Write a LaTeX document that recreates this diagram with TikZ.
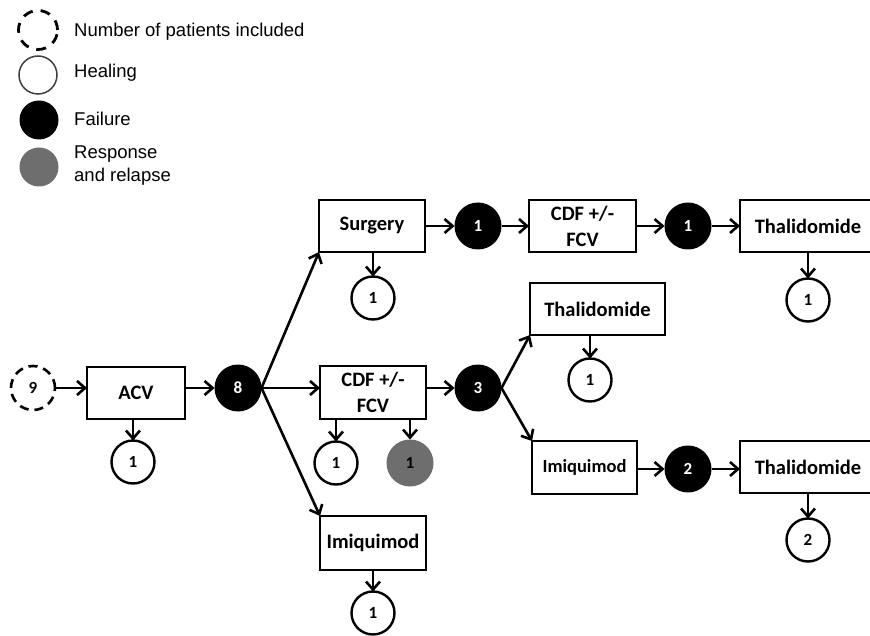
\documentclass[tikz,border=0pt]{standalone}
\usepackage{fontspec}
\setmainfont{Liberation Sans}
\newfontfamily\labfont{Carlito}
\usetikzlibrary{arrows.meta}
\definecolor{relgray}{RGB}{110,110,110}
\tikzset{
  conn/.style={line width=2.6pt,-{Straight Barb[length=8pt,width=14pt]}},
  boxnode/.style={draw,line width=2.6pt,rectangle,inner sep=0pt,outer sep=0pt,align=center,
    font=\labfont\bfseries\fontsize{20.5}{26}\selectfont},
  numc/.style={circle,inner sep=0pt,outer sep=0pt,font=\labfont\bfseries\fontsize{17}{20}\selectfont},
  heal/.style={numc,draw,line width=2.4pt,fill=white,minimum size=43pt},
  fail/.style={numc,fill=black,text=white,minimum size=47pt},
  relapse/.style={numc,fill=relgray,text=black,minimum size=47pt},
  incl/.style={numc,draw,line width=2.6pt,dash pattern=on 9pt off 6pt,minimum size=44pt},
  legtext/.style={anchor=west,inner sep=0pt,font=\fontsize{18.5}{23}\selectfont,align=left}
}
\begin{document}
\begin{tikzpicture}[x=1pt,y=-1pt]
\useasboundingbox (0,0) rectangle (870,636);
% legend
\node[numc,draw,line width=2.8pt,dash pattern=on 10pt off 8pt,minimum size=39pt] (lg1) at (38,30) {};
\node[numc,draw=black!75,line width=1.5pt,minimum size=38pt] (lg2) at (38,75) {};
\node[numc,fill=black,minimum size=39pt] (lg3) at (39,120) {};
\node[numc,fill=relgray,minimum size=39pt] (lg4) at (39,167) {};
\node[legtext] (lt1) at (74,32) {Number of patients included};
\node[legtext] (lt2) at (74,73) {Healing};
\node[legtext] (lt3) at (74,119) {Failure};
\node[legtext] (lt4) at (74,166) {Response\\and relapse};
% main row
\node[incl] (n9) at (33,388) {9};
\node[boxnode,minimum width=98pt,minimum height=52pt] (acv) at (136,393) {ACV};
\node[heal] (acv1) at (133,462) {1};
\node[fail] (n8) at (238,388) {8};
% top branch
\node[boxnode,minimum width=106pt,minimum height=52pt] (surg) at (372,226) {Surgery};
\node[heal] (surg1) at (373,298) {1};
\node[fail] (b1a) at (478,226) {1};
\node[boxnode,minimum width=107pt,minimum height=52pt] (cdft) at (582.5,226) {CDF +/-\\FCV};
\node[fail] (b1b) at (688,226) {1};
\node[boxnode,minimum width=136pt,minimum height=52pt] (thalt) at (808,226) {Thalidomide};
\node[heal] (thalt1) at (808,300) {1};
% middle branch
\node[boxnode,minimum width=106pt,minimum height=53pt] (cdfm) at (373,392.5) {CDF +/-\\FCV};
\node[heal] (cw1) at (336,463) {1};
\node[relapse] (cg1) at (410,463) {1};
\node[fail] (n3) at (478,388) {3};
\node[boxnode,minimum width=135pt,minimum height=52pt] (thalm) at (597.5,309) {Thalidomide};
\node[heal] (thalm1) at (590,380) {1};
\node[boxnode,minimum width=105pt,minimum height=53pt,font=\labfont\bfseries\fontsize{18.5}{22}\selectfont] (imim) at (584.5,467.5) {Imiquimod};
\node[fail] (n2) at (688,469) {2};
\node[boxnode,minimum width=136pt,minimum height=52pt] (thalb) at (808,467) {Thalidomide};
\node[heal] (thalb2) at (808,540) {2};
% bottom branch
\node[boxnode,minimum width=106pt,minimum height=54pt] (imib) at (373,543) {Imiquimod};
\node[heal] (imib1) at (373,613) {1};
% connectors
\draw[conn] (n9.east) -- (n9.east -| acv.west);
\draw[conn] (acv.east |- n8.west) -- (n8.west);
\draw[conn] (acv.south -| acv1.north) -- (acv1.north);
\draw[conn] (n8.east) -- (surg.south west);
\draw[conn] (n8.east) -- (n8.east -| cdfm.west);
\draw[conn] (n8.east) -- (imib.north west);
\draw[conn] (surg.south -| surg1.north) -- (surg1.north);
\draw[conn] (surg.east) -- (b1a.west);
\draw[conn] (b1a.east) -- (cdft.west);
\draw[conn] (cdft.east) -- (b1b.west);
\draw[conn] (b1b.east) -- (thalt.west);
\draw[conn] (thalt.south -| thalt1.north) -- (thalt1.north);
\draw[conn] (cdfm.south -| cw1.north) -- (cw1.north);
\draw[conn] (cdfm.south -| cg1.north) -- (cg1.north);
\draw[conn] (cdfm.east |- n3.west) -- (n3.west);
\draw[conn] (n3.east) -- (thalm.south west);
\draw[conn] (n3.east) -- (imim.north west);
\draw[conn] (thalm.south -| thalm1.north) -- (thalm1.north);
\draw[conn] (imim.east |- n2.west) -- (n2.west);
\draw[conn] (n2.east) -- (n2.east -| thalb.west);
\draw[conn] (thalb.south -| thalb2.north) -- (thalb2.north);
\draw[conn] (imib.south -| imib1.north) -- (imib1.north);
\end{tikzpicture}
\end{document}
